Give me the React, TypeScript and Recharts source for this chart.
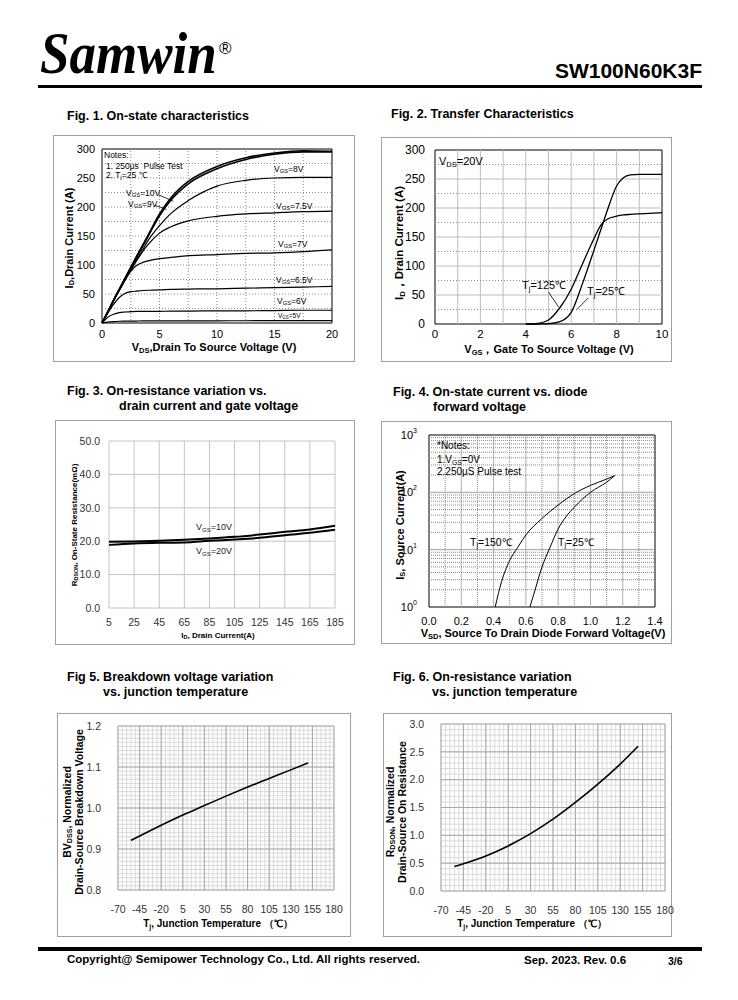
import React from 'react';
import { LineChart, Line, XAxis, YAxis, ReferenceLine, ReferenceArea } from 'recharts';

const FONT = '"Liberation Sans", Arial, Helvetica, sans-serif';

// Fig. 1 - on-state characteristics, ID (A) vs VDS (V)
const fig1Vds = [0, 0.5, 1, 1.5, 2, 2.5, 3, 3.5, 4, 5, 6, 7.5, 10, 12.5, 15, 17.5, 20];
const fig1Vgs10 = [0, 19, 39, 58, 77, 96, 115, 133, 151, 188, 216, 244, 270, 285, 293, 297, 296];
const fig1Vgs9 = [0, 19, 39, 58, 77, 95, 113, 131, 149, 185, 212, 240, 266, 282, 291, 295, 295];
const fig1Vgs8 = [0, 19, 39, 57, 75, 92, 109, 125, 142, 168, 189, 211, 236, 246, 250, 251, 251];
const fig1Vgs75 = [0, 19, 38, 56, 74, 91, 107, 122, 135, 155, 166, 176, 184, 188, 190, 192, 193];
const fig1Vgs7 = [0, 19, 38, 56, 74, 89, 99, 104, 107, 111, 113, 116, 118, 120, 121, 123, 126];
const fig1Vgs65 = [0, 17, 32, 44, 51, 54, 55, 56, 56.5, 57, 58, 58.5, 59, 60, 61, 62, 63];
const fig1Vgs6 = [0, 10, 15, 18, 19, 19.5, 20, 20, 20, 20, 20.5, 20.5, 21, 21, 21.5, 22, 22];
const fig1Vgs5 = [0, 1.5, 2.5, 3, 3.2, 3.3, 3.4, 3.5, 3.5, 3.5, 3.6, 3.7, 3.8, 3.9, 4, 4, 4];
const fig1XTicks = [0, 5, 10, 15, 20];
const fig1YTicks = [0, 50, 100, 150, 200, 250, 300];

// Fig. 2 - transfer characteristics, ID (A) vs VGS (V)
const fig2Vgs = [4, 4.2, 4.5, 5, 5.5, 6, 6.5, 7, 7.3, 7.6, 8, 8.3, 8.6, 9, 10];
const fig2Tj25 = [0, 0, 0, 0.5, 4, 20, 70, 127, 162, 197, 238, 252, 257, 258, 258];
const fig2Tj125 = [0, 0, 1, 7, 28, 60, 104, 147, 170, 181, 186, 188, 189, 190, 192];
const fig2XTicks = [0, 2, 4, 6, 8, 10];
const fig2YTicks = [0, 50, 100, 150, 200, 250, 300];

// Fig. 3 - RDS(on) (mOhm) vs ID (A)
const fig3Id = [5, 25, 45, 65, 85, 105, 125, 145, 165, 185];
const fig3Vgs10 = [19.8, 19.9, 20.1, 20.4, 20.8, 21.3, 22.0, 22.8, 23.5, 24.6];
const fig3Vgs20 = [18.9, 19.3, 19.5, 19.6, 20.1, 20.5, 21.0, 21.8, 22.5, 23.4];
const fig3XTicks = [5, 25, 45, 65, 85, 105, 125, 145, 165, 185];
const fig3YTicks = [0, 10, 20, 30, 40, 50];

// Fig. 4 - IS (A) vs VSD (V), log scale
const fig4Vsd150 = [0.41, 0.45, 0.5, 0.55, 0.6, 0.7, 0.8, 0.9, 1.0, 1.1, 1.15];
const fig4Is150 = [1, 2.8, 6.5, 11, 18, 35, 60, 95, 132, 170, 195];
const fig4Vsd25 = [0.625, 0.65, 0.7, 0.75, 0.8, 0.85, 0.9, 1.0, 1.1, 1.15];
const fig4Is25 = [1, 1.7, 5, 11, 23, 38, 55, 100, 150, 195];
const fig4XTicks = [0, 0.2, 0.4, 0.6, 0.8, 1.0, 1.2, 1.4];
const fig4YTicks = [1, 10, 100, 1000];

// Fig. 5 - normalized BVDSS vs Tj
const fig5Tj = [-55, -20, 5, 30, 55, 80, 105, 130, 150];
const fig5Bv = [0.921, 0.958, 0.983, 1.006, 1.029, 1.051, 1.072, 1.093, 1.11];
const fig5YTicks = [0.8, 0.9, 1.0, 1.1, 1.2];

// Fig. 6 - normalized RDS(on) vs Tj
const fig6Tj = [-55, -45, -20, 5, 30, 55, 80, 105, 130, 150];
const fig6Rds = [0.44, 0.49, 0.63, 0.81, 1.03, 1.29, 1.59, 1.92, 2.28, 2.6];
const fig6YTicks = [0, 0.5, 1.0, 1.5, 2.0, 2.5, 3.0];

const tempTicks = [-70, -45, -20, 5, 30, 55, 80, 105, 130, 155, 180];

const fig1Data = fig1Vds.map((x, i) => ({
  x, v10: fig1Vgs10[i], v9: fig1Vgs9[i], v8: fig1Vgs8[i], v75: fig1Vgs75[i],
  v7: fig1Vgs7[i], v65: fig1Vgs65[i], v6: fig1Vgs6[i], v5: fig1Vgs5[i],
}));
const fig2Data = fig2Vgs.map((x, i) => ({ x, t25: fig2Tj25[i], t125: fig2Tj125[i] }));
const fig3Data = fig3Id.map((x, i) => ({ x, g10: fig3Vgs10[i], g20: fig3Vgs20[i] }));
const fig4Data150 = fig4Vsd150.map((x, i) => ({ x, y: fig4Is150[i] }));
const fig4Data25 = fig4Vsd25.map((x, i) => ({ x, y: fig4Is25[i] }));
const fig5Data = fig5Tj.map((x, i) => ({ x, y: fig5Bv[i] }));
const fig6Data = fig6Tj.map((x, i) => ({ x, y: fig6Rds[i] }));

// grid positions
const steps = (from: number, to: number, step: number) => {
  const out: number[] = [];
  for (let v = from; v <= to + step / 1000; v += step) out.push(Math.round(v * 1000) / 1000);
  return out;
};

type Box = { x: number; y: number; w: number; h: number };

// extra room on the right so the last tick label is not clipped
const PAD = 14;

function layout(frame: Box, plot: Box) {
  return {
    width: frame.w + PAD,
    margin: { top: plot.y - frame.y, right: frame.x + frame.w - (plot.x + plot.w) + PAD, left: 0, bottom: 0 },
    yWidth: plot.x - frame.x,
    xHeight: frame.y + frame.h - (plot.y + plot.h),
  };
}

const Frame = ({ b }: { b: Box }) => (
  <div style={{ position: 'absolute', left: b.x, top: b.y, width: b.w, height: b.h, border: '1px solid #a0a0a0', boxSizing: 'border-box' }} />
);

const Txt = ({ x, y, size = 10, bold = false, color = '#000', center = false, children }: any) => (
  <div style={{
    position: 'absolute', left: x, top: y, transform: `translate(${center ? '-50%' : '0'}, -50%)`,
    fontSize: size, fontWeight: bold ? 700 : 400, color, whiteSpace: 'nowrap', lineHeight: 1, fontFamily: FONT,
  }}>{children}</div>
);

const VTxt = ({ x, y, size = 11, lh = 1.15, children }: any) => (
  <div style={{
    position: 'absolute', left: x, top: y, transform: 'translate(-50%, -50%) rotate(-90deg)',
    fontSize: size, fontWeight: 700, whiteSpace: 'nowrap', lineHeight: lh, textAlign: 'center', fontFamily: FONT,
  }}>{children}</div>
);

const Sub = ({ children }: any) => (
  <span style={{ fontSize: '0.68em', verticalAlign: '-0.2em' }}>{children}</span>
);

const Title = ({ x, y, children }: any) => (
  <div style={{ position: 'absolute', left: x, top: y, transform: 'translateY(-50%)', fontSize: 12.5, fontWeight: 700, whiteSpace: 'nowrap', lineHeight: 1, fontFamily: FONT }}>{children}</div>
);

const PowTick = (props: any) => {
  const { x, y, payload } = props;
  const exp = Math.round(Math.log10(payload.value));
  return (
    <text x={x - 4} y={y} textAnchor="end" fontSize={11} fontFamily={FONT} fill="#000">
      <tspan dy="0.35em">10</tspan>
      <tspan dy={-6} fontSize={7}>{exp}</tspan>
    </text>
  );
};

const blackTick = { fontSize: 11, fill: '#000', fontFamily: FONT };
const greyTick = { fontSize: 10.5, fill: '#333', fontFamily: FONT };

function Fig1() {
  const frame = { x: 53, y: 135, w: 302, h: 227 };
  const L = layout(frame, { x: 102, y: 149, w: 230, h: 174 });
  const series = ['v5', 'v6', 'v65', 'v7', 'v75', 'v8', 'v9', 'v10'];
  return (
    <div style={{ position: 'absolute', left: frame.x, top: frame.y }}>
      <LineChart width={L.width} height={frame.h} data={fig1Data} margin={L.margin}>
        <XAxis type="number" dataKey="x" domain={[0, 20]} ticks={fig1XTicks} interval={0} height={L.xHeight}
          axisLine={false} tickLine={false} tickSize={5} tick={blackTick} />
        <YAxis type="number" domain={[0, 300]} ticks={fig1YTicks} interval={0} width={L.yWidth}
          axisLine={false} tickLine={false} tickSize={5} tick={blackTick} />
        {steps(2.5, 17.5, 2.5).map((v) => <ReferenceLine key={'x' + v} x={v} stroke="#8a8a8a" strokeDasharray="1 2" />)}
        {steps(25, 275, 25).map((v) => <ReferenceLine key={'y' + v} y={v} stroke="#8a8a8a" strokeDasharray="1 2" />)}
        <ReferenceArea x1={0} x2={20} y1={0} y2={300} fill="none" stroke="#000" strokeWidth={1} />
        <ReferenceLine segment={[{ x: 4.9, y: 221 }, { x: 6.2, y: 210 }]} stroke="#000" strokeWidth={0.8} />
        <ReferenceLine segment={[{ x: 4.6, y: 203 }, { x: 5.6, y: 196 }]} stroke="#000" strokeWidth={0.8} />
        {series.map((k) => (
          <Line key={k} dataKey={k} type="monotone" dot={false} stroke="#000"
            strokeWidth={k === 'v10' || k === 'v9' ? 1.6 : 1.2} isAnimationActive={false} />
        ))}
      </LineChart>
    </div>
  );
}

function Fig2() {
  const frame = { x: 381, y: 137, w: 291, h: 225 };
  const L = layout(frame, { x: 435, y: 150, w: 227, h: 174 });
  return (
    <div style={{ position: 'absolute', left: frame.x, top: frame.y }}>
      <LineChart width={L.width} height={frame.h} data={fig2Data} margin={L.margin}>
        <XAxis type="number" dataKey="x" domain={[0, 10]} ticks={fig2XTicks} interval={0} height={L.xHeight}
          axisLine={false} tickLine={false} tickSize={4} tick={{ ...blackTick, fontSize: 11.5 }} />
        <YAxis type="number" domain={[0, 300]} ticks={fig2YTicks} interval={0} width={L.yWidth}
          axisLine={false} tickLine={false} tickSize={8} tick={{ ...blackTick, fontSize: 12 }} />
        {steps(1, 9, 1).map((v) => <ReferenceLine key={'x' + v} x={v} stroke="#bdbdbd" />)}
        {steps(50, 250, 50).map((v) => <ReferenceLine key={'y' + v} y={v} stroke="#bdbdbd" />)}
        {steps(25, 275, 50).map((v) => <ReferenceLine key={'m' + v} y={v} stroke="#8a8a8a" strokeDasharray="1 2" />)}
        <ReferenceArea x1={0} x2={10} y1={0} y2={300} fill="none" stroke="#000" strokeWidth={1} />
        <ReferenceLine segment={[{ x: 5.0, y: 55 }, { x: 5.45, y: 29 }]} stroke="#000" strokeWidth={0.8} />
        <ReferenceLine segment={[{ x: 6.75, y: 45 }, { x: 6.25, y: 25 }]} stroke="#000" strokeWidth={0.8} />
        <Line dataKey="t125" type="monotone" dot={false} stroke="#000" strokeWidth={1.3} isAnimationActive={false} />
        <Line dataKey="t25" type="monotone" dot={false} stroke="#000" strokeWidth={1.3} isAnimationActive={false} />
      </LineChart>
    </div>
  );
}

function Fig3() {
  const frame = { x: 55, y: 420, w: 300, h: 225 };
  const L = layout(frame, { x: 109, y: 441, w: 226, h: 167 });
  return (
    <div style={{ position: 'absolute', left: frame.x, top: frame.y }}>
      <LineChart width={L.width} height={frame.h} data={fig3Data} margin={L.margin}>
        <XAxis type="number" dataKey="x" domain={[5, 185]} ticks={fig3XTicks} interval={0} height={L.xHeight}
          axisLine={false} tickLine={false} tickSize={9} tick={greyTick} />
        <YAxis type="number" domain={[0, 50]} ticks={fig3YTicks} interval={0} width={L.yWidth}
          axisLine={false} tickLine={false} tickSize={7} tick={greyTick} tickFormatter={(v: number) => v.toFixed(1)} />
        {fig3XTicks.map((v) => <ReferenceLine key={'x' + v} x={v} stroke="#c4c4c4" />)}
        {fig3YTicks.map((v) => <ReferenceLine key={'y' + v} y={v} stroke="#c4c4c4" />)}
        <Line dataKey="g10" type="monotone" dot={false} stroke="#000" strokeWidth={2} isAnimationActive={false} />
        <Line dataKey="g20" type="monotone" dot={false} stroke="#000" strokeWidth={2} isAnimationActive={false} />
      </LineChart>
    </div>
  );
}

function Fig4() {
  const frame = { x: 381, y: 421, w: 291, h: 223 };
  const L = layout(frame, { x: 429, y: 435, w: 226, h: 172 });
  const minorY = [1, 10, 100].flatMap((d) => [2, 3, 4, 5, 6, 7, 8, 9].map((m) => m * d));
  return (
    <div style={{ position: 'absolute', left: frame.x, top: frame.y }}>
      <LineChart width={L.width} height={frame.h} margin={L.margin}>
        <XAxis type="number" dataKey="x" domain={[0, 1.4]} ticks={fig4XTicks} interval={0} height={L.xHeight}
          axisLine={false} tickLine={false} tickSize={8} tick={blackTick} tickFormatter={(v: number) => v.toFixed(1)} allowDataOverflow />
        <YAxis type="number" dataKey="y" scale="log" domain={[1, 1000]} ticks={fig4YTicks} interval={0} width={L.yWidth}
          axisLine={false} tickLine={false} tick={<PowTick />} allowDataOverflow />
        {steps(0.1, 1.3, 0.2).map((v) => <ReferenceLine key={'xm' + v} x={v} stroke="#8a8a8a" strokeDasharray="1 1" />)}
        {steps(0.2, 1.2, 0.2).map((v) => <ReferenceLine key={'x' + v} x={v} stroke="#b0b0b0" />)}
        {minorY.map((v) => <ReferenceLine key={'ym' + v} y={v} stroke="#8a8a8a" strokeDasharray="1 1" />)}
        {[10, 100].map((v) => <ReferenceLine key={'y' + v} y={v} stroke="#a0a0a0" />)}
        <ReferenceArea x1={0} x2={1.4} y1={1} y2={1000} fill="none" stroke="#000" strokeWidth={1} />
        <Line data={fig4Data150} dataKey="y" type="monotone" dot={false} stroke="#000" strokeWidth={1} isAnimationActive={false} />
        <Line data={fig4Data25} dataKey="y" type="monotone" dot={false} stroke="#000" strokeWidth={1} isAnimationActive={false} />
      </LineChart>
    </div>
  );
}

function TempChart({ frame, plot, data, yDomain, yTicks, yMinor, yMajor }: any) {
  const L = layout(frame, plot);
  return (
    <div style={{ position: 'absolute', left: frame.x, top: frame.y }}>
      <LineChart width={L.width} height={frame.h} data={data} margin={L.margin}>
        <XAxis type="number" dataKey="x" domain={[-70, 180]} ticks={tempTicks} interval={0} height={L.xHeight}
          axisLine={false} tickLine={false} tickSize={14} tick={greyTick} />
        <YAxis type="number" domain={yDomain} ticks={yTicks} interval={0} width={L.yWidth}
          axisLine={false} tickLine={false} tickSize={15} tick={greyTick} tickFormatter={(v: number) => v.toFixed(1)} />
        {steps(-70, 180, 5).map((v) => <ReferenceLine key={'xm' + v} x={v} stroke="#dadada" />)}
        {yMinor.map((v: number) => <ReferenceLine key={'ym' + v} y={v} stroke="#dadada" />)}
        {tempTicks.map((v) => <ReferenceLine key={'x' + v} x={v} stroke="#a8a8a8" />)}
        {yMajor.map((v: number) => <ReferenceLine key={'y' + v} y={v} stroke="#a8a8a8" />)}
        <Line dataKey="y" type="monotone" dot={false} stroke="#000" strokeWidth={1.6} isAnimationActive={false} />
      </LineChart>
    </div>
  );
}

export default function App() {
  return (
    <div style={{ position: 'absolute', left: 0, top: 0, width: 738, height: 1000, background: '#fff', fontFamily: FONT, overflow: 'hidden' }}>
      {/* header */}
      <div style={{ position: 'absolute', left: 40, top: 30, fontFamily: '"Liberation Serif", "Times New Roman", serif', fontStyle: 'italic', fontWeight: 700, fontSize: 53, lineHeight: 1, transform: 'scaleY(1.1)', transformOrigin: 'left bottom' }}>Samwin</div>
      <div style={{ position: 'absolute', left: 219, top: 40, fontFamily: FONT, fontSize: 17, lineHeight: 1 }}>®</div>
      <div style={{ position: 'absolute', right: 36, top: 60, fontSize: 21, fontWeight: 700, lineHeight: 1 }}>SW100N60K3F</div>
      <div style={{ position: 'absolute', left: 38, top: 85, width: 664, height: 3, background: '#000' }} />

      <Title x={67} y={116}>Fig. 1. On-state characteristics</Title>
      <Title x={391} y={114}>Fig. 2. Transfer Characteristics</Title>
      <Title x={67} y={391}>Fig. 3. On-resistance variation vs.</Title>
      <Title x={119} y={406}>drain current and gate voltage</Title>
      <Title x={393} y={392}>Fig. 4. On-state current vs. diode</Title>
      <Title x={433} y={407}>forward voltage</Title>
      <Title x={67} y={677}>Fig 5. Breakdown voltage variation</Title>
      <Title x={103} y={692}>vs. junction temperature</Title>
      <Title x={393} y={677}>Fig. 6. On-resistance variation</Title>
      <Title x={432} y={692}>vs. junction temperature</Title>

      <Frame b={{ x: 53, y: 135, w: 302, h: 227 }} />
      <Frame b={{ x: 381, y: 137, w: 291, h: 225 }} />
      <Frame b={{ x: 55, y: 420, w: 300, h: 225 }} />
      <Frame b={{ x: 381, y: 421, w: 291, h: 223 }} />
      <Frame b={{ x: 57, y: 713, w: 294, h: 224 }} />
      <Frame b={{ x: 383, y: 713, w: 289, h: 224 }} />

      <Fig1 />
      <Fig2 />
      <Fig3 />
      <Fig4 />
      <TempChart frame={{ x: 57, y: 713, w: 294, h: 224 }} plot={{ x: 118, y: 726, w: 216, h: 164 }}
        data={fig5Data} yDomain={[0.8, 1.2]} yTicks={fig5YTicks} yMinor={steps(0.8, 1.2, 0.01)} yMajor={fig5YTicks} />
      <TempChart frame={{ x: 383, y: 713, w: 289, h: 224 }} plot={{ x: 441, y: 724, w: 224, h: 167 }}
        data={fig6Data} yDomain={[0, 3]} yTicks={fig6YTicks} yMinor={steps(0, 3, 0.1)} yMajor={fig6YTicks} />

      {/* Fig 1 annotations */}
      <Txt x={104} y={155} size={8.5}>Notes:</Txt>
      <Txt x={106} y={166} size={8.5}>1. 250μs&nbsp; Pulse Test</Txt>
      <Txt x={106} y={176} size={8.5}>2. T<Sub>j</Sub>=25 ℃</Txt>
      <Txt x={126} y={194} size={8.5}>V<Sub>GS</Sub>=10V</Txt>
      <Txt x={128} y={205} size={8.5}>V<Sub>GS</Sub>=9V</Txt>
      <Txt x={274} y={170} size={8.5}>V<Sub>GS</Sub>=8V</Txt>
      <Txt x={276} y={207} size={8.5}>V<Sub>GS</Sub>=7.5V</Txt>
      <Txt x={278} y={245} size={8.5}>V<Sub>GS</Sub>=7V</Txt>
      <Txt x={276} y={281} size={8.5}>V<Sub>GS</Sub>=6.5V</Txt>
      <Txt x={277} y={302} size={8.5}>V<Sub>GS</Sub>=6V</Txt>
      <Txt x={278} y={317} size={6.5}>V<Sub>GS</Sub>=5V</Txt>
      <VTxt x={70} y={238} size={11}>I<Sub>D</Sub>,Drain Current (A)</VTxt>
      <Txt x={214} y={348} size={11} bold center>V<Sub>DS</Sub>,Drain To Source Voltage (V)</Txt>

      {/* Fig 2 annotations */}
      <Txt x={439} y={162} size={11}>V<Sub>DS</Sub>=20V</Txt>
      <Txt x={522} y={286} size={11}>T<Sub>j</Sub>=125℃</Txt>
      <Txt x={587} y={292} size={11}>T<Sub>j</Sub>=25℃</Txt>
      <VTxt x={400} y={243} size={11.5}>I<Sub>D</Sub>，Drain Current (A)</VTxt>
      <Txt x={549} y={350} size={11} bold center>V<Sub>GS</Sub>，Gate To Source Voltage (V)</Txt>

      {/* Fig 3 annotations */}
      <Txt x={196} y={528} size={9} color="#222">V<Sub>GS</Sub>=10V</Txt>
      <Txt x={196} y={552} size={9} color="#222">V<Sub>GS</Sub>=20V</Txt>
      <VTxt x={75} y={525} size={8}>R<Sub>DSON</Sub>, On-State Resistance(mΩ)</VTxt>
      <Txt x={218} y={636} size={8} bold center>I<Sub>D</Sub>, Drain Current(A)</Txt>

      {/* Fig 4 annotations */}
      <Txt x={437} y={446} size={10}>*Notes:</Txt>
      <Txt x={437} y={461} size={10}>1.V<Sub>GS</Sub>=0V</Txt>
      <Txt x={437} y={472} size={10}>2.250μS Pulse test</Txt>
      <Txt x={470} y={543} size={10.5}>T<Sub>j</Sub>=150℃</Txt>
      <Txt x={558} y={543} size={10.5}>T<Sub>j</Sub>=25℃</Txt>
      <VTxt x={401} y={525} size={11}>I<Sub>S</Sub>, Source Current(A)</VTxt>
      <Txt x={543} y={634} size={11} bold center>V<Sub>SD</Sub>, Source To Drain Diode Forward Voltage(V)</Txt>

      {/* Fig 5 / 6 annotations */}
      <VTxt x={74} y={812} size={10.5} lh={1.12}>BV<Sub>DSS</Sub>, Normalized<br />Drain-Source Breakdown Voltage</VTxt>
      <Txt x={218} y={925} size={10} bold center>T<Sub>j</Sub>, Junction Temperature （℃）</Txt>
      <VTxt x={397} y={812} size={10.5} lh={1.12}>R<Sub>DSON</Sub>, Normalized<br />Drain-Source On Resistance</VTxt>
      <Txt x={532} y={925} size={10} bold center>T<Sub>j</Sub>, Junction Temperature （℃）</Txt>

      {/* footer */}
      <div style={{ position: 'absolute', left: 38, top: 947, width: 664, height: 4, background: '#000' }} />
      <Txt x={67} y={960} size={11.5} bold>Copyright@ Semipower Technology Co., Ltd. All rights reserved.</Txt>
      <Txt x={524} y={961} size={11.5} bold>Sep. 2023. Rev. 0.6</Txt>
      <Txt x={668} y={961} size={10.5} bold>3/6</Txt>
    </div>
  );
}
